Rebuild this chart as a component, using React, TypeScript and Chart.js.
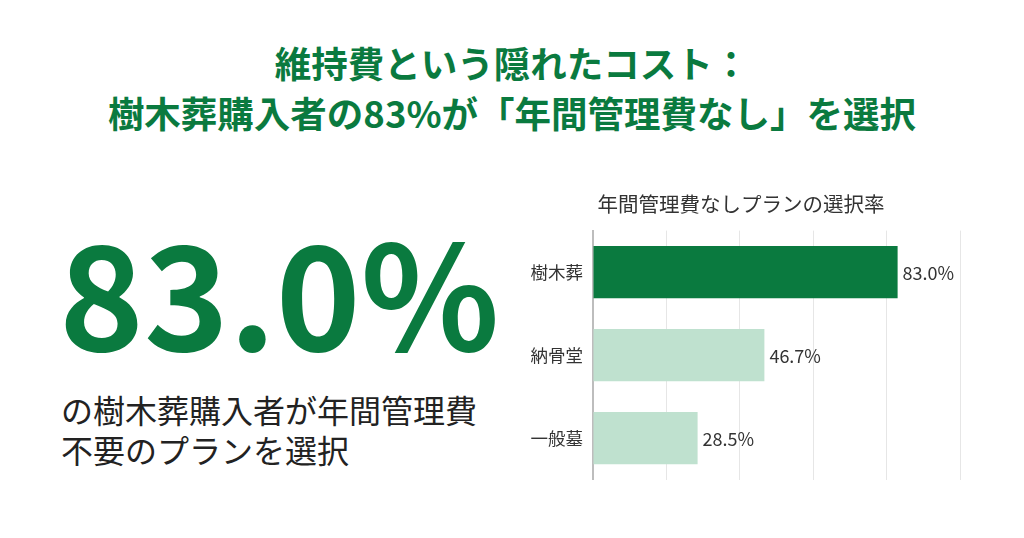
import React, { useEffect, useRef } from "react";
import { Chart, registerables } from "chart.js";

Chart.register(...registerables);

const categories: string[] = ["樹木葬", "納骨堂", "一般墓"];
const rates: number[] = [83.0, 46.7, 28.5];
const chartTitle = "年間管理費なしプランの選択率";
const headlineLines: string[] = ["維持費という隠れたコスト：", "樹木葬購入者の83%が「年間管理費なし」を選択"];
const bigNumber = "83.0%";
const captionLines: string[] = ["の樹木葬購入者が年間管理費", "不要のプランを選択"];
const axisMin = 0;
const axisMax = 100;
const axisStep = 20;

const GREEN = "#0a7a3f";
const LIGHT = "#bfe1cf";
const FONT = "'Noto Sans CJK JP', 'Noto Sans', sans-serif";

const valueLabels = {
  id: "valueLabels",
  afterDatasetsDraw(chart: any) {
    const ctx = chart.ctx;
    const meta = chart.getDatasetMeta(0);
    ctx.save();
    ctx.font = `18px ${FONT}`;
    ctx.fillStyle = "#333333";
    ctx.textAlign = "left";
    ctx.textBaseline = "middle";
    meta.data.forEach((bar: any, i: number) => {
      const v = chart.data.datasets[0].data[i] as number;
      ctx.fillText(`${v.toFixed(1)}%`, bar.x + 5, bar.y + 1);
    });
    ctx.restore();
  },
};

function BarChart() {
  const ref = useRef<HTMLCanvasElement | null>(null);
  useEffect(() => {
    if (!ref.current) return;
    const chart = new Chart(ref.current, {
      type: "bar",
      data: {
        labels: categories,
        datasets: [
          {
            data: rates,
            backgroundColor: rates.map((_, i) => (i === 0 ? GREEN : LIGHT)),
            borderWidth: 0,
            barPercentage: 0.63,
            categoryPercentage: 1,
          },
        ],
      },
      options: {
        indexAxis: "y",
        animation: false,
        responsive: false,
        maintainAspectRatio: false,
        layout: { padding: { left: 0, right: 2, top: 0, bottom: 0 } },
        plugins: {
          legend: { display: false },
          tooltip: { enabled: false },
          title: {
            display: true,
            text: chartTitle,
            color: "#333333",
            font: { family: FONT, size: 20.5, weight: "normal" },
            padding: { top: 12, bottom: 14 },
          },
        },
        scales: {
          x: {
            min: axisMin,
            max: axisMax,
            ticks: { display: false, stepSize: axisStep },
            grid: { color: "#e6e6e6", lineWidth: 1, drawTicks: false },
            border: { display: false },
            afterFit: (s: any) => {
              s.height = 18;
            },
          },
          y: {
            ticks: {
              color: "#333333",
              font: { family: FONT, size: 17.5 },
              padding: 10,
            },
            grid: { display: false, drawTicks: false },
            border: { display: true, color: "#bdbdbd", width: 2 },
            afterFit: (s: any) => {
              s.width = 71;
            },
          },
        },
      },
      plugins: [valueLabels],
    });
    return () => chart.destroy();
  }, []);
  return (
    <canvas
      ref={ref}
      width={440}
      height={320}
      style={{ position: "absolute", left: 522, top: 180, width: 440, height: 320 }}
    />
  );
}

export default function App() {
  return (
    <div
      style={{
        position: "fixed",
        left: 0,
        top: 0,
        width: 1024,
        height: 538,
        background: "#ffffff",
        overflow: "hidden",
        fontFamily: FONT,
      }}
    >
      <div
        style={{
          position: "absolute",
          left: 0,
          top: 38,
          width: 1024,
          textAlign: "center",
          color: GREEN,
          fontWeight: 700,
          fontSize: 36.5,
          lineHeight: "50px",
        }}
      >
        {headlineLines.map((l, i) => (
          <div key={i}>{l}</div>
        ))}
      </div>
      <div
        style={{
          position: "absolute",
          left: 59,
          top: 216,
          color: GREEN,
          fontWeight: 700,
          fontSize: 144,
          lineHeight: "144px",
          whiteSpace: "nowrap",
        }}
      >
        {bigNumber}
      </div>
      <div
        style={{
          position: "absolute",
          left: 61,
          top: 389,
          color: "#222222",
          fontSize: 32,
          lineHeight: "40px",
          whiteSpace: "nowrap",
        }}
      >
        {captionLines.map((l, i) => (
          <div key={i}>{l}</div>
        ))}
      </div>
      <BarChart />
    </div>
  );
}
